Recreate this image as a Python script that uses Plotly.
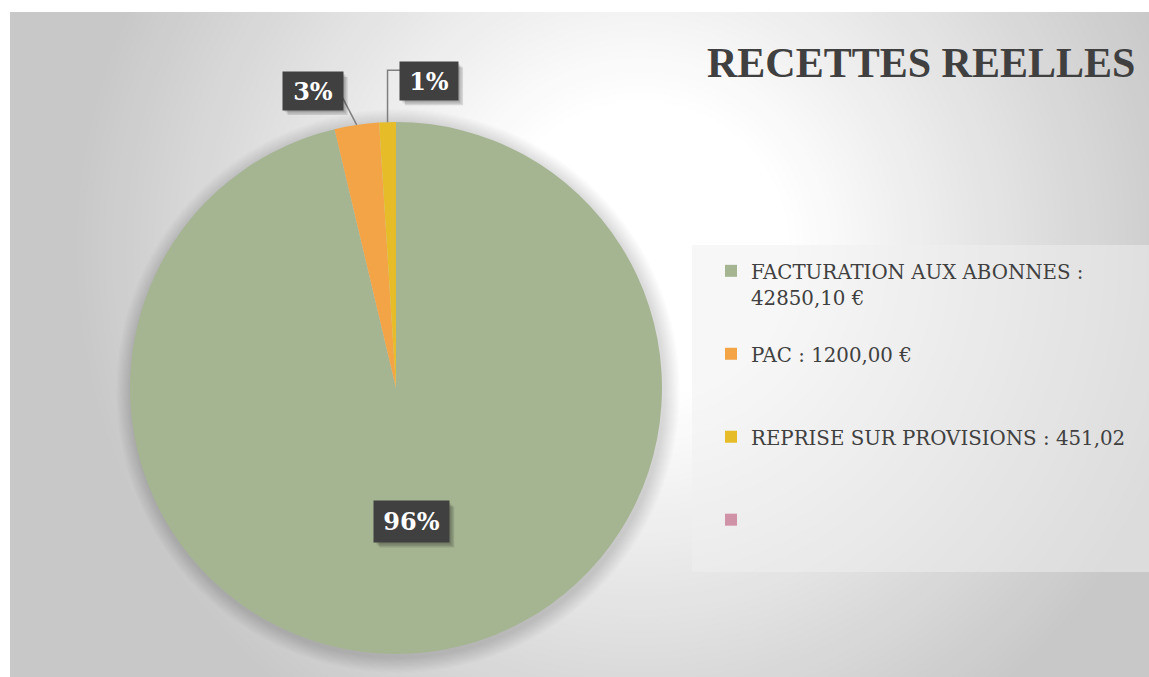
import math
import plotly.graph_objects as go

# ---- data ----
categories = ["FACTURATION AUX ABONNES :<br>42850,10 €", "PAC : 1200,00 €",
              "REPRISE SUR PROVISIONS : 451,02", "\u00a0"]
values = [42850.10, 1200.00, 451.02, 0]
colors = ["#A5B592", "#F3A447", "#E7BC29", "#D092A7"]
title_text = "RECETTES REELLES"

W, H = 1149, 677
# pie geometry in pixels
CX, CY, R = 396, 388, 266


def px(x):
    return x / W


def py(y):
    return 1 - y / H


shapes = []
# background radial gradient (concentric circles)
shapes.append(dict(type="rect", xref="paper", yref="paper", x0=0, x1=1, y0=0, y1=1,
                   fillcolor="rgb(200,200,200)", line_width=0, layer="below"))
gcx, gcy = 640, 250
r_in, r_out = 150, 570
steps = 60
for i in range(steps + 1):
    r = r_out - (r_out - r_in) * i / steps
    t = (r - r_in) / (r_out - r_in)
    c = round(255 - 55 * t)
    shapes.append(dict(type="circle", xref="paper", yref="paper",
                       x0=px(gcx - r), x1=px(gcx + r), y0=py(gcy + r), y1=py(gcy - r),
                       fillcolor=f"rgb({c},{c},{c})", line_width=0, layer="below"))
# white margins left/top
shapes.append(dict(type="rect", xref="paper", yref="paper", x0=0, x1=px(10), y0=0, y1=1,
                   fillcolor="white", line_width=0, layer="below"))
shapes.append(dict(type="rect", xref="paper", yref="paper", x0=0, x1=1, y0=py(12), y1=1,
                   fillcolor="white", line_width=0, layer="below"))
# soft shadow around pie
for k in range(12):
    rr = R + 16 - k * 1.3
    shapes.append(dict(type="circle", xref="paper", yref="paper",
                       x0=px(CX - rr + 2), x1=px(CX + rr + 2), y0=py(CY + rr + 3), y1=py(CY - rr + 3),
                       fillcolor="rgba(0,0,0,0.012)", line_width=0, layer="below"))
# legend box
shapes.append(dict(type="rect", xref="paper", yref="paper", x0=px(692), x1=1,
                   y0=py(572), y1=py(245), fillcolor="rgba(239,239,239,0.5)",
                   line_width=0, layer="below"))

# ---- slice labels computed from values ----
total = sum(values)
angles = []
acc = 0
for v in values:
    mid = (acc + v / 2) / total * 2 * math.pi
    angles.append(mid)
    acc += v


def edge(a, f=1.0):
    return CX + R * f * math.sin(a), CY - R * f * math.cos(a)


annotations = []
label_font = dict(family="DejaVu Serif", size=24, color="white")


def add_label(text, cx, cy, w, h):
    bw, bh = w + 8, h + 8
    # soft drop shadow (layered rectangles)
    for k, a in enumerate([0.10, 0.10, 0.12]):
        d = 2 + k * 1.5
        shapes.append(dict(type="rect", xref="paper", yref="paper", layer="above",
                           x0=px(cx - bw / 2 + d), x1=px(cx + bw / 2 + d),
                           y0=py(cy + bh / 2 + d), y1=py(cy - bh / 2 + d),
                           fillcolor=f"rgba(0,0,0,{a})", line_width=0))
    annotations.append(dict(x=px(cx), y=py(cy), xref="paper", yref="paper", showarrow=False,
                            xanchor="center", yanchor="middle", width=w, height=h, borderpad=4,
                            text=f"<b>{text}</b>", font=label_font, bgcolor="#404040"))


pcts = [f"{round(v / total * 100)}%" for v in values]

# 96 %: inside
x0, y0 = edge(angles[0], 0.507)
add_label(pcts[0], x0, y0, 67, 33)

# 3 %: outside with leader
ex, ey = edge(angles[1])
lx, ly = ex - 44, ey - 34
shapes.append(dict(type="line", xref="paper", yref="paper", x0=px(ex), y0=py(ey),
                   x1=px(lx + 30), y1=py(ly + 7), line=dict(color="#7f7f7f", width=1.5)))
add_label(pcts[1], lx, ly, 52, 30)

# 1 %: outside with elbow leader
ex, ey = edge(angles[2])
lx, ly = ex + 41.5, ey - 41
shapes.append(dict(type="path", xref="paper", yref="paper",
                   path=f"M {px(ex)} {py(ey)} L {px(ex)} {py(ly - 11)} L {px(lx - 29)} {py(ly - 11)}",
                   line=dict(color="#7f7f7f", width=1.5)))
add_label(pcts[2], lx, ly, 50, 30)

# title
annotations.append(dict(x=px(1137), y=py(63), xref="paper", yref="paper",
                        xanchor="right", yanchor="middle", showarrow=False,
                        text=f"<b>{title_text}</b>",
                        font=dict(family="Liberation Serif", size=42, color="#404040")))

legend_labels = []
for i, c in enumerate(categories):
    nlines = c.count("<br>") + 1
    lines = c.split("<br>") + (["\u00a0"] * (3 - nlines) if i < 3 else [])
    legend_labels.append("<br>".join(f'<span style="font-size:19.8px">{ln}</span>' for ln in lines))

fig = go.Figure(go.Pie(
    labels=legend_labels, values=values, sort=False, direction="clockwise", rotation=0,
    marker=dict(colors=colors, line=dict(width=0)), textinfo="none",
    domain=dict(x=[px(CX - R), px(CX + R)], y=[py(CY + R), py(CY - R)]),
    hoverinfo="value+percent",
))

fig.update_layout(
    width=W, height=H, margin=dict(l=0, r=0, t=0, b=0),
    paper_bgcolor="white", plot_bgcolor="white",
    shapes=shapes, annotations=annotations,
    showlegend=True,
    legend=dict(x=px(711), y=py(251), xanchor="left", yanchor="top",
                bgcolor="rgba(0,0,0,0)", valign="top",
                font=dict(family="DejaVu Serif", size=20.5, color="#404040")),
)

fig.write_html("out.html", config={"displayModeBar": False},
               post_script="document.body.style.margin='0';document.body.style.overflow='hidden';")
